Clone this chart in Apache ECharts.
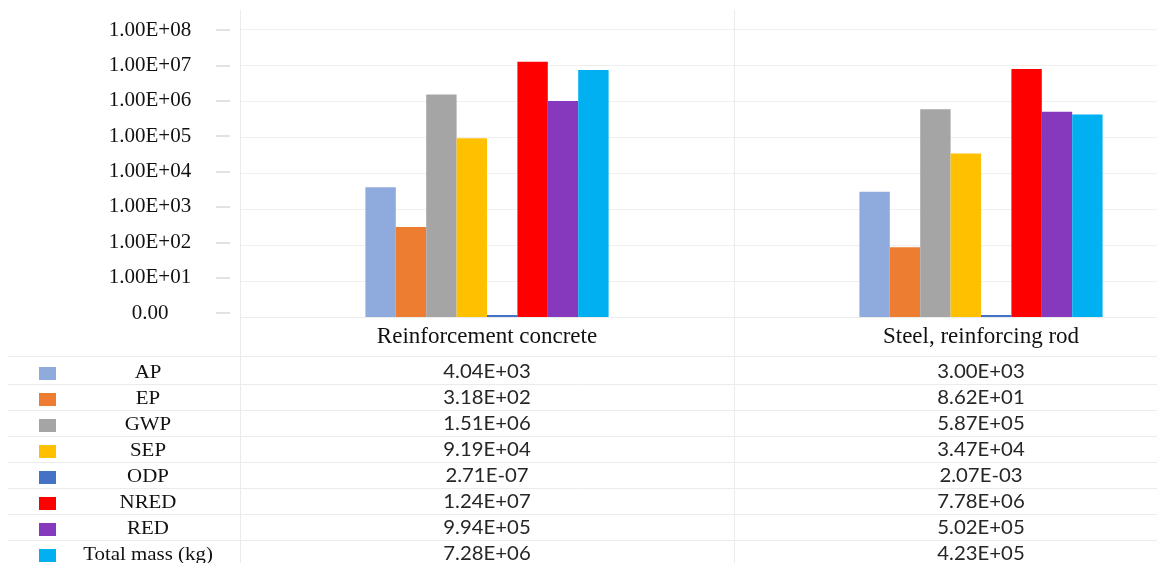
<!DOCTYPE html>
<html>
<head>
<meta charset="utf-8">
<script src="https://cdn.jsdelivr.net/npm/echarts@6/dist/echarts.min.js"></script>
<style>
  html, body { margin: 0; padding: 0; background: #ffffff; }
  #chart { width: 1157px; height: 563px; }
</style>
</head>
<body>
<div id="chart"></div>
<script>
// Life-cycle impact indicators per material (log scale) with a data table below.
const categories = ['Reinforcement concrete', 'Steel, reinforcing rod'];
const seriesNames = ['AP', 'EP', 'GWP', 'SEP', 'ODP', 'NRED', 'RED', 'Total mass (kg)'];

const AP         = [4.04e3, 3.00e3];
const EP         = [3.18e2, 8.62e1];
const GWP        = [1.51e6, 5.87e5];
const SEP        = [9.19e4, 3.47e4];
const ODP        = [2.71e-7, 2.07e-3];
const NRED       = [1.24e7, 7.78e6];
const RED        = [9.94e5, 5.02e5];
const TOTAL_MASS = [7.28e6, 4.23e5];

const yTickLabels = ['0.00', '1.00E+01', '1.00E+02', '1.00E+03', '1.00E+04',
                     '1.00E+05', '1.00E+06', '1.00E+07', '1.00E+08'];

const seriesValues = [AP, EP, GWP, SEP, ODP, NRED, RED, TOTAL_MASS];
const palette = ['#8FAADC', '#ED7D31', '#A5A5A5', '#FFC000', '#4472C4', '#FF0000', '#8739BE', '#00B0F0'];

const Y_MIN = 1;
const Y_MAX = 1e8;

// "4.04E+03" style number text
function sci(v) {
  const parts = v.toExponential(2).split('e');
  const exp = parts[1];
  const sign = exp[0] === '-' ? '-' : '+';
  const digits = exp.replace(/[+-]/, '').padStart(2, '0');
  return parts[0] + 'E' + sign + digits;
}

function tickLabel(v) {
  const e = Math.round(Math.log10(v));
  return yTickLabels[e] !== undefined ? yTickLabels[e] : '';
}

const serif = '"Liberation Serif", "Times New Roman", serif';
const sans = 'Lato, "Noto Sans", sans-serif';

const chart = echarts.init(document.getElementById('chart'), null, { renderer: 'canvas' });

const option = {
  animation: false,
  backgroundColor: '#ffffff',
  grid: [
    { left: 240, top: 29, width: 988, height: 288, containLabel: false, outerBoundsMode: 'none' },
    { left: 230, top: 30, width: 1, height: 283, containLabel: false, outerBoundsMode: 'none' }
  ],
  xAxis: [
    {
      gridIndex: 0,
      type: 'category',
      data: categories,
      axisLine: { show: true, lineStyle: { color: '#ececec', width: 1 } },
      axisTick: { show: false },
      axisLabel: {
        margin: 20,
        verticalAlign: 'middle',
        fontFamily: serif,
        fontSize: 23,
        color: '#111111'
      },
      splitLine: { show: false }
    },
    { gridIndex: 1, type: 'value', min: 0, max: 1, show: false }
  ],
  yAxis: [
    {
      gridIndex: 0,
      type: 'log',
      logBase: 10,
      min: Y_MIN,
      max: Y_MAX,
      splitNumber: 8,
      axisLine: { show: false },
      axisTick: { show: false },
      axisLabel: { show: false },
      splitLine: { show: true, lineStyle: { color: '#f0f0f0', width: 1 } }
    },
    {
      gridIndex: 1,
      type: 'log',
      logBase: 10,
      min: Y_MIN,
      max: Y_MAX,
      splitNumber: 8,
      axisLine: { show: false },
      axisTick: { show: true, length: 14, lineStyle: { color: '#d9d9d9', width: 1.5 } },
      axisLabel: {
        show: true,
        margin: 80,
        align: 'center',
        fontFamily: serif,
        fontSize: 21,
        color: '#111111',
        formatter: tickLabel
      },
      splitLine: { show: false }
    }
  ],
  series: seriesNames.map(function (name, i) {
    return {
      name: name,
      type: 'bar',
      xAxisIndex: 0,
      yAxisIndex: 0,
      barWidth: 30.4,
      barGap: '0%',
      barMinHeight: 2,
      itemStyle: { color: palette[i] },
      // values below the log axis floor rest on the baseline
      data: seriesValues[i].map(function (v) { return Math.max(v, Y_MIN); })
    };
  })
};

chart.setOption(option);

// Data table under the plot, aligned to the category bands of the x axis
const c0 = chart.convertToPixel({ xAxisIndex: 0 }, 0);
const c1 = chart.convertToPixel({ xAxisIndex: 0 }, 1);
const band = c1 - c0;
const centers = categories.map(function (_, i) { return c0 + i * band; });

const W = 1157;
const H = 563;
const headerLine = 356;
const firstRowLine = 384;
const rowH = 26;
const tableLeft = 8;
const lineColor = '#ebebeb';

const elements = [];

// vertical band dividers
for (let i = 0; i <= categories.length; i++) {
  const x = Math.round(c0 - band / 2 + i * band) + 0.5;
  elements.push({
    type: 'line',
    silent: true,
    shape: { x1: x, y1: 10, x2: x, y2: H },
    style: { stroke: lineColor, lineWidth: 1 }
  });
}

// horizontal row rules
const ruleYs = [headerLine];
for (let k = 0; k < seriesNames.length; k++) ruleYs.push(firstRowLine + k * rowH);
ruleYs.forEach(function (y) {
  elements.push({
    type: 'line',
    silent: true,
    shape: { x1: tableLeft, y1: y + 0.5, x2: W, y2: y + 0.5 },
    style: { stroke: lineColor, lineWidth: 1 }
  });
});

seriesNames.forEach(function (name, k) {
  const cy = firstRowLine - 13 + k * rowH;
  // legend key
  elements.push({
    type: 'rect',
    silent: true,
    shape: { x: 39, y: cy - 4, width: 17, height: 13 },
    style: { fill: palette[k] }
  });
  // row label
  elements.push({
    type: 'text',
    silent: true,
    x: 148,
    y: cy + 2,
    scaleX: 1.1,
    style: {
      text: name,
      font: '19px ' + serif,
      fill: '#111111',
      textAlign: 'center',
      textVerticalAlign: 'middle'
    }
  });
  // values per category
  centers.forEach(function (cx, i) {
    elements.push({
      type: 'text',
      silent: true,
      x: cx,
      y: cy + 1,
      scaleX: 1.1,
      style: {
        text: sci(seriesValues[k][i]),
        font: '18.5px ' + sans,
        fill: '#262626',
        textAlign: 'center',
        textVerticalAlign: 'middle'
      }
    });
  });
});

chart.setOption({ graphic: { elements: elements } });
</script>
</body>
</html>
